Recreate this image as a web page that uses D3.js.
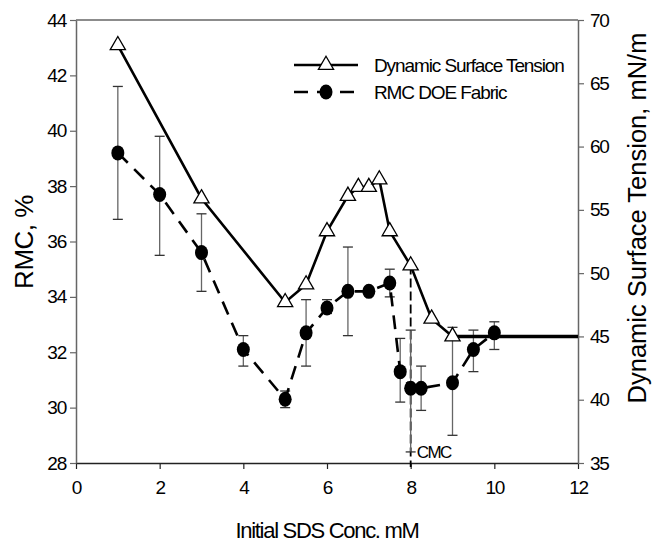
<!DOCTYPE html>
<html><head><meta charset="utf-8">
<script src="https://cdn.jsdelivr.net/npm/d3@7/dist/d3.min.js"></script>
<style>
html,body{margin:0;padding:0;background:#fff;}
svg{display:block;font-family:"Liberation Sans",Arial,sans-serif;}
</style></head>
<body>
<svg id="chart" width="654" height="546"></svg>
<script>
// ---- data ----
const dstX = [1, 3, 5, 5.5, 6, 6.5, 6.75, 7, 7.25, 7.5, 8, 8.5, 9];
const dstY = [68.0, 55.9, 47.7, 49.1, 53.3, 56.1, 56.8, 56.8, 57.4, 53.3, 50.6, 46.4, 45.0];
const plateauX = [9, 12];
const plateauY = [45, 45];
const rmcX  = [1, 2, 3, 4, 5, 5.5, 6, 6.5, 7, 7.5, 7.75, 8, 8.25, 9, 9.5, 10];
const rmcY  = [39.2, 37.7, 35.6, 32.1, 30.3, 32.7, 33.6, 34.2, 34.2, 34.5, 31.3, 30.7, 30.7, 30.9, 32.1, 32.7];
const rmcHi = [41.6, 39.8, 37.0, 32.6, 30.6, 33.9, 33.9, 35.8, 34.3, 35.0, 32.5, 32.8, 31.5, 32.9, 32.8, 33.1];
const rmcLo = [36.8, 35.5, 34.2, 31.5, 30.0, 31.5, 33.4, 32.6, 34.1, 34.0, 30.2, 28.4, 29.9, 29.0, 31.3, 32.1];
const cmcX = 8;
const cmcDst = 50.6;
const xTicks = [0, 2, 4, 6, 8, 10, 12];
const yLeftTicks = [28, 30, 32, 34, 36, 38, 40, 42, 44];
const yRightTicks = [35, 40, 45, 50, 55, 60, 65, 70];
const seriesNames = ["Dynamic Surface Tension", "RMC DOE Fabric"];

// ---- layout ----
const L = 76, R = 578, T = 20, B = 463;
const svg = d3.select("#chart");
const x = d3.scaleLinear().domain([0, 12]).range([L, R]);
const yL = d3.scaleLinear().domain([28, 44]).range([B, T]);
const yR = d3.scaleLinear().domain([35, 70]).range([B, T]);

// frame top
svg.append("line").attr("x1", L).attr("x2", R).attr("y1", T).attr("y2", T)
  .attr("stroke", "#666").attr("stroke-width", 1.5);

function styleAxis(g, col) {
  g.selectAll(".domain").attr("stroke", col).attr("stroke-width", 1.5);
  g.selectAll(".tick line").attr("stroke", col).attr("stroke-width", 1.2);
  g.selectAll(".tick text").attr("fill", "#000").attr("font-size", 19)
    .attr("letter-spacing", "-1.2px").attr("font-family", "'Liberation Sans',Arial,sans-serif");
}
const gx = svg.append("g").attr("transform", `translate(0,${B})`)
  .call(d3.axisBottom(x).tickValues(xTicks).tickSize(6).tickSizeOuter(0).tickPadding(12).tickFormat(d3.format("d")));
styleAxis(gx, "#222");
const gl = svg.append("g").attr("transform", `translate(${L},0)`)
  .call(d3.axisLeft(yL).tickValues(yLeftTicks).tickSize(6).tickSizeOuter(0).tickPadding(4).tickFormat(d3.format("d")));
styleAxis(gl, "#666");
const gr = svg.append("g").attr("transform", `translate(${R},0)`)
  .call(d3.axisRight(yR).tickValues(yRightTicks).tickSize(6).tickSizeOuter(0).tickPadding(6).tickFormat(d3.format("d")));
styleAxis(gr, "#666");

// axis titles
svg.append("text").attr("x", 327).attr("y", 538).attr("text-anchor", "middle")
  .attr("font-size", 22).attr("letter-spacing", "-1.3px").text("Initial SDS Conc. mM");
svg.append("text").attr("transform", "translate(33,242) rotate(-90)").attr("text-anchor", "middle")
  .attr("font-size", 26).attr("letter-spacing", "-0.5px").text("RMC, %");
svg.append("text").attr("transform", "translate(646,218) rotate(-90)").attr("text-anchor", "middle")
  .attr("font-size", 25.5).text("Dynamic Surface Tension, mN/m");

// CMC line
svg.append("line").attr("x1", x(cmcX)).attr("x2", x(cmcX)).attr("y1", yR(cmcDst)).attr("y2", B + 4)
  .attr("stroke", "#000").attr("stroke-width", 1.8).attr("stroke-dasharray", "9,4");
svg.append("text").attr("x", x(cmcX) + 6).attr("y", B - 5).attr("font-size", 17)
  .attr("letter-spacing", "-1.5px").text("CMC");

// error bars
const rmc = rmcX.map((d, i) => ({x: d, y: rmcY[i], hi: rmcHi[i], lo: rmcLo[i]}));
const eb = svg.append("g");
rmc.forEach(d => {
  eb.append("line").attr("x1", x(d.x)).attr("x2", x(d.x)).attr("y1", yL(d.hi)).attr("y2", yL(d.lo))
    .attr("stroke", "#666").attr("stroke-width", 1.3);
  [d.hi, d.lo].forEach(v => eb.append("line").attr("x1", x(d.x) - 5).attr("x2", x(d.x) + 5)
    .attr("y1", yL(v)).attr("y2", yL(v)).attr("stroke", "#333").attr("stroke-width", 1.3));
});

// RMC dashed line
const lineL = d3.line().x(d => x(d.x)).y(d => yL(d.y));
svg.append("path").datum(rmc).attr("d", lineL).attr("fill", "none")
  .attr("stroke", "#000").attr("stroke-width", 2.6).attr("stroke-dasharray", "14,9");

// DST line
const dst = dstX.map((d, i) => ({x: d, y: dstY[i]}));
const plateau = plateauX.map((d, i) => ({x: d, y: plateauY[i]}));
const lineR = d3.line().x(d => x(d.x)).y(d => yR(d.y));
svg.append("path").datum(dst).attr("d", lineR).attr("fill", "none")
  .attr("stroke", "#000").attr("stroke-width", 2.6);
svg.append("path").datum(plateau).attr("d", lineR).attr("fill", "none")
  .attr("stroke", "#000").attr("stroke-width", 3.6);

// markers
const tri = d3.symbol().type(d3.symbolTriangle).size(100);
svg.append("g").selectAll("path").data(dst).join("path")
  .attr("d", tri).attr("transform", d => `translate(${x(d.x)},${yR(d.y)})`)
  .attr("fill", "#fff").attr("stroke", "#000").attr("stroke-width", 1.3);
svg.append("g").selectAll("ellipse").data(rmc).join("ellipse")
  .attr("cx", d => x(d.x)).attr("cy", d => yL(d.y)).attr("rx", 6.5).attr("ry", 7.5).attr("fill", "#000");

// legend
const lg = svg.append("g");
lg.append("line").attr("x1", 294).attr("x2", 358).attr("y1", 65).attr("y2", 65)
  .attr("stroke", "#000").attr("stroke-width", 2.6);
lg.append("path").attr("d", tri).attr("transform", "translate(326,65)")
  .attr("fill", "#fff").attr("stroke", "#000").attr("stroke-width", 1.3);
lg.append("line").attr("x1", 294).attr("x2", 358).attr("y1", 92).attr("y2", 92)
  .attr("stroke", "#000").attr("stroke-width", 2.6).attr("stroke-dasharray", "14,9");
lg.append("ellipse").attr("cx", 326).attr("cy", 92).attr("rx", 6.5).attr("ry", 7.5).attr("fill", "#000");
seriesNames.forEach((s, i) => lg.append("text").attr("x", 374).attr("y", 72 + i * 27)
  .attr("font-size", 19).attr("letter-spacing", "-1.1px").text(s));
</script>
</body></html>
